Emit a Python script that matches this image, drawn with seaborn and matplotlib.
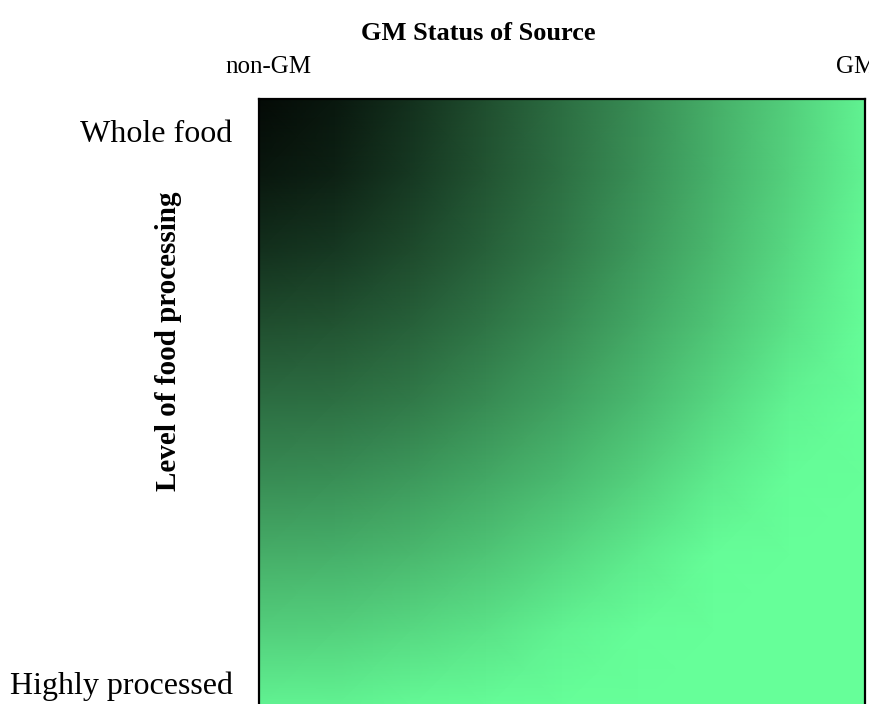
import matplotlib
matplotlib.use("Agg")
import matplotlib.pyplot as plt
import seaborn as sns
from matplotlib.colors import LinearSegmentedColormap

# axis labels
x_labels = ["non-GM", "GM"]
y_labels = ["Whole food", "Highly processed"]

# shade on a 9x9 grid of nodes
# (0 = black, 1 = full green), top-left node = whole food / non-GM
shade = [
    [0.04, 0.09, 0.19, 0.31, 0.43, 0.55, 0.68, 0.81, 0.95],
    [0.09, 0.13, 0.22, 0.33, 0.44, 0.56, 0.69, 0.82, 0.95],
    [0.19, 0.22, 0.29, 0.38, 0.48, 0.60, 0.72, 0.85, 0.98],
    [0.31, 0.33, 0.38, 0.46, 0.55, 0.66, 0.77, 0.89, 0.99],
    [0.43, 0.44, 0.48, 0.55, 0.63, 0.73, 0.84, 0.95, 1.00],
    [0.55, 0.56, 0.60, 0.66, 0.73, 0.82, 0.92, 0.99, 1.00],
    [0.68, 0.69, 0.72, 0.77, 0.84, 0.92, 0.99, 1.00, 1.00],
    [0.81, 0.82, 0.85, 0.89, 0.95, 0.99, 1.00, 1.00, 1.00],
    [0.95, 0.95, 0.98, 0.99, 1.00, 1.00, 1.00, 1.00, 1.00],
]

sns.set_theme(style="white")
plt.rcParams["font.family"] = ["Liberation Serif", "DejaVu Serif"]

cmap = LinearSegmentedColormap.from_list("gm", ["#000000", "#66ff99"])

fig = plt.figure(figsize=(8.69, 7.04), dpi=100)
ax = fig.add_axes([259 / 869, -3 / 704, 606 / 869, 608 / 704])

n = len(shade)
sns.heatmap(shade, cmap=cmap, vmin=0, vmax=1, cbar=False,
            shading="gouraud", ax=ax)
ax.set_xlim(0, n - 1)
ax.set_ylim(n - 1, 0)

for s in ax.spines.values():
    s.set_visible(True)
    s.set_color("black")
    s.set_linewidth(1.6)

ax.xaxis.tick_top()
ax.set_xticks([0.12, 7.89], x_labels)
ax.set_yticks([0.47, 7.73], y_labels, rotation=0)
ax.tick_params(axis="x", length=0, pad=15, labelsize=18, colors="black")
ax.tick_params(axis="y", length=0, pad=19, labelsize=23, colors="black")
ax.set_xlabel("")
ax.set_ylabel("")

fig.text(478 / 869, 1 - 40 / 704, "GM Status of Source", ha="center",
         va="baseline", fontsize=19, fontweight="bold", color="black")
fig.text(168 / 869, 1 - 341 / 704, "Level of food processing", ha="center",
         va="center", rotation=90, fontsize=21, fontweight="bold",
         color="black")

fig.savefig("out.png", dpi=100)
